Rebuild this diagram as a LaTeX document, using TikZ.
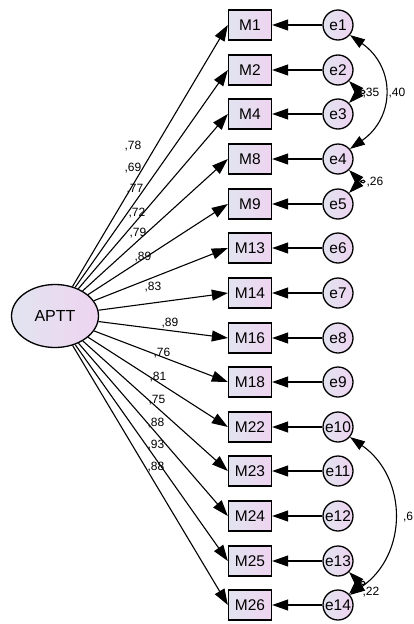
\documentclass[tikz,border=0pt]{standalone}
\usepackage{fontspec}
\setmainfont{Liberation Sans}
\usepackage{tikz}
\usetikzlibrary{shapes}
\usetikzlibrary{positioning}
\usetikzlibrary{arrows.meta}
\usepackage{xcolor}
\definecolor{lavA}{RGB}{226,228,240}
\definecolor{lavB}{RGB}{238,212,240}

\begin{document}
\begin{tikzpicture}[x=1pt,y=-1pt,
  obs/.style={draw,line width=1.3pt,minimum width=43pt,minimum height=30pt,inner sep=0pt,
    left color=lavA,right color=lavB,font=\fontsize{15.5}{17}\selectfont},
  err/.style={circle,draw,line width=1.3pt,minimum size=30pt,inner sep=0pt,
    left color=lavA,right color=lavB,font=\fontsize{15.5}{17}\selectfont},
  lat/.style={ellipse,draw,line width=1.3pt,minimum width=87pt,minimum height=63pt,
    left color=lavA,right color=lavB,font=\fontsize{16}{18}\selectfont},
  arr/.style={line width=1.1pt,-{Triangle[length=16pt,width=11pt]}},
  cov/.style={line width=1.1pt,{Triangle[length=15pt,width=10pt]}-{Triangle[length=15pt,width=10pt]}},
  wt/.style={font=\fontsize{12}{14}\selectfont,inner sep=0pt}]
\useasboundingbox (0,0) rectangle (414,624);

\node[lat] (APTT) at (55,316) {APTT};
% items, errors and loadings
\foreach \m/\e/\y/\w/\lx/\ly in {1/1/25/78/133/146, 2/2/70/69/133/168, 4/3/114/77/135/189,
    8/4/159/72/137/213, 9/5/204/79/138/233, 13/6/248/89/143/257, 14/7/293/83/153/287,
    16/8/338/89/170/323, 18/9/382/76/162/353, 22/10/427/81/158/377, 23/11/471/75/157/400,
    24/12/516/88/156/423, 25/13/561/93/156/445, 26/14/605/88/156/467} {
  \node[obs] (M\m) at (250,\y) {M\m};
  \node[err] (e\e) at (338,\y) {e\e};
  \draw[arr] (e\e) -- (M\m);
  \draw[arr] (APTT) -- (M\m.west);
  \node[wt] (w\m) at (\lx,\ly) {,\w};
}

% error covariances
\draw[cov] (e1.-40) to[out=-35,in=35,looseness=1.25] (e4.40);
\node[wt] (c14) at (397,93) {,40};
\draw[cov] (e2.-45) to[out=-45,in=45,out distance=25pt,in distance=25pt] (e3.45);
\node[wt] (c23) at (371,93) {,35};
\draw[cov] (e4.-45) to[out=-45,in=45,out distance=25pt,in distance=25pt] (e5.45);
\node[wt] (c45) at (375,182) {,26};
\draw[cov] (e10.-40) to[out=-35,in=35,looseness=1.15] (e14.40);
\node[wt] (c1014) at (408,517) {,6};
\draw[cov] (e13.-45) to[out=-45,in=45,out distance=25pt,in distance=25pt] (e14.45);
\node[wt] (c1314) at (371,592) {,22};
\end{tikzpicture}
\end{document}
